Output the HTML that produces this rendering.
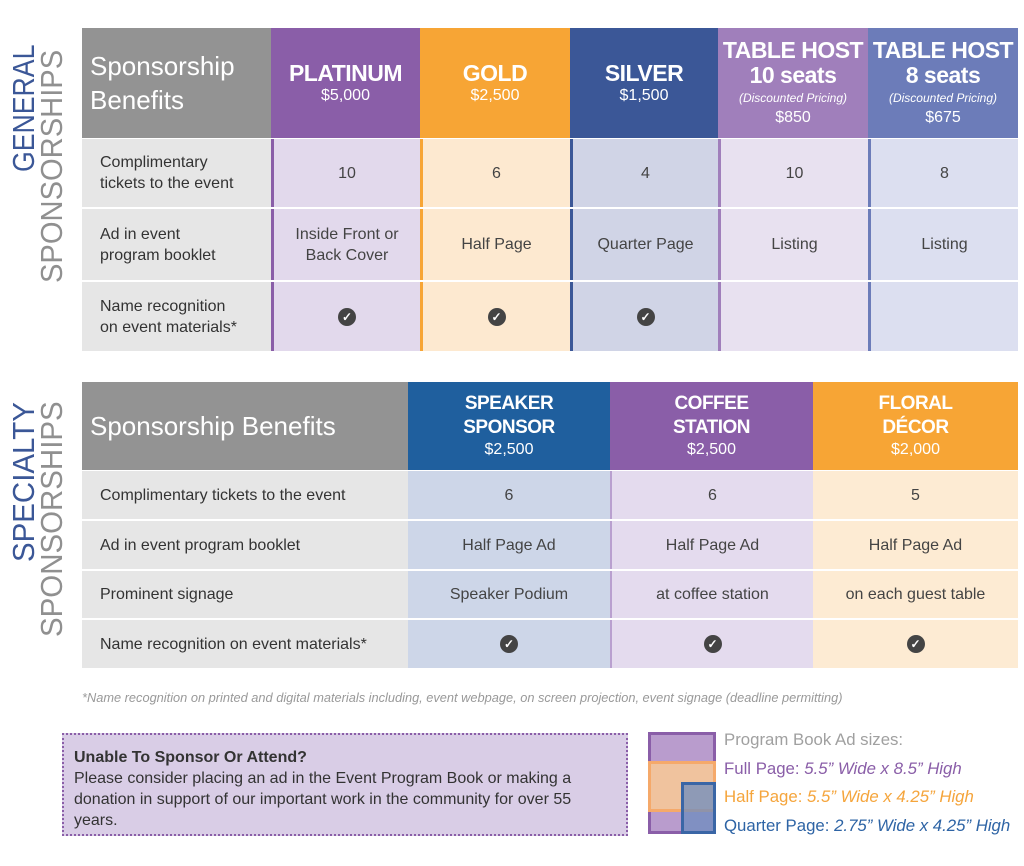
<!DOCTYPE html>
<html><head><meta charset="utf-8"><style>
*{margin:0;padding:0;box-sizing:border-box}
body{width:1024px;height:866px;background:#fff;position:relative;font-family:"Liberation Sans",sans-serif;overflow:hidden}
.a{position:absolute;display:flex;flex-direction:column;align-items:center;justify-content:center;text-align:center;color:#444;font-size:16px;line-height:21px}
.l{align-items:flex-start;text-align:left;padding-left:18px;background:#e6e6e6;color:#333}
.h{color:#fff}
.h b{font-size:23px;line-height:25px;letter-spacing:-0.5px}
.h span{font-size:16px;line-height:20px}
.h i{font-size:12px;line-height:20px}
.chk{width:18px;height:18px;border-radius:50%;background:#444;color:#fff;font-size:12px;line-height:18px;text-align:center;font-weight:bold}
.v{position:absolute;transform-origin:left top;white-space:nowrap;font-size:31px;line-height:31px}
</style></head><body>

<div class="v" style="left:8px;top:172px;color:#3b5797;transform:rotate(-90deg) scaleX(0.86)">GENERAL</div>
<div class="v" style="left:36px;top:283px;color:#909090;transform:rotate(-90deg) scaleX(0.94)">SPONSORSHIPS</div>
<div class="v" style="left:8px;top:562px;color:#3b5797;transform:rotate(-90deg) scaleX(0.95)">SPECIALTY</div>
<div class="v" style="left:36px;top:637px;color:#909090;transform:rotate(-90deg) scaleX(0.95)">SPONSORSHIPS</div>

<!-- table 1 header -->
<div class="a l h" style="left:82px;top:28px;width:189px;height:110px;background:#939393;font-size:26px;line-height:34px;padding-left:8px;color:#fff">Sponsorship<br>Benefits</div>
<div class="a h" style="left:271px;top:28px;width:149px;height:110px;background:#8a5ea8"><b>PLATINUM</b><span>$5,000</span></div>
<div class="a h" style="left:420px;top:28px;width:150px;height:110px;background:#f7a535"><b>GOLD</b><span>$2,500</span></div>
<div class="a h" style="left:570px;top:28px;width:148px;height:110px;background:#3b5797"><b>SILVER</b><span>$1,500</span></div>
<div class="a h" style="left:718px;top:28px;width:150px;height:110px;background:#a07fbb"><b>TABLE HOST<br>10 seats</b><i>(Discounted Pricing)</i><span>$850</span></div>
<div class="a h" style="left:868px;top:28px;width:150px;height:110px;background:#6c7cb9"><b>TABLE HOST<br>8 seats</b><i>(Discounted Pricing)</i><span>$675</span></div>

<!-- table 1 rows -->
<div class="a l" style="left:82px;top:139px;width:189px;height:68px">Complimentary<br>tickets to the event</div>
<div class="a l" style="left:82px;top:209px;width:189px;height:71px">Ad in event<br>program booklet</div>
<div class="a l" style="left:82px;top:282px;width:189px;height:69px">Name recognition<br>on event materials*</div>

<div class="a" style="left:271px;top:139px;width:149px;height:68px;background:#e2d9ec;border-left:3px solid #8a5ea8">10</div>
<div class="a" style="left:271px;top:209px;width:149px;height:71px;background:#e2d9ec;border-left:3px solid #8a5ea8">Inside Front or<br>Back Cover</div>
<div class="a" style="left:271px;top:282px;width:149px;height:69px;background:#e2d9ec;border-left:3px solid #8a5ea8"><div class="chk">✓</div></div>

<div class="a" style="left:420px;top:139px;width:150px;height:68px;background:#fde9d0;border-left:3px solid #f7a535">6</div>
<div class="a" style="left:420px;top:209px;width:150px;height:71px;background:#fde9d0;border-left:3px solid #f7a535">Half Page</div>
<div class="a" style="left:420px;top:282px;width:150px;height:69px;background:#fde9d0;border-left:3px solid #f7a535"><div class="chk">✓</div></div>

<div class="a" style="left:570px;top:139px;width:148px;height:68px;background:#d0d4e6;border-left:3px solid #3b5797">4</div>
<div class="a" style="left:570px;top:209px;width:148px;height:71px;background:#d0d4e6;border-left:3px solid #3b5797">Quarter Page</div>
<div class="a" style="left:570px;top:282px;width:148px;height:69px;background:#d0d4e6;border-left:3px solid #3b5797"><div class="chk">✓</div></div>

<div class="a" style="left:718px;top:139px;width:150px;height:68px;background:#e8e1f0;border-left:3px solid #a07fbb">10</div>
<div class="a" style="left:718px;top:209px;width:150px;height:71px;background:#e8e1f0;border-left:3px solid #a07fbb">Listing</div>
<div class="a" style="left:718px;top:282px;width:150px;height:69px;background:#e8e1f0;border-left:3px solid #a07fbb"></div>

<div class="a" style="left:868px;top:139px;width:150px;height:68px;background:#dcdff0;border-left:3px solid #6c7cb9">8</div>
<div class="a" style="left:868px;top:209px;width:150px;height:71px;background:#dcdff0;border-left:3px solid #6c7cb9">Listing</div>
<div class="a" style="left:868px;top:282px;width:150px;height:69px;background:#dcdff0;border-left:3px solid #6c7cb9"></div>

<!-- table 2 header -->
<div class="a l h" style="left:82px;top:382px;width:326px;height:88px;background:#939393;font-size:26px;padding-left:8px;color:#fff">Sponsorship Benefits</div>
<div class="a h" style="left:408px;top:382px;width:202px;height:88px;background:#1f5f9e"><b style="font-size:19px;line-height:24px">SPEAKER<br>SPONSOR</b><span>$2,500</span></div>
<div class="a h" style="left:610px;top:382px;width:203px;height:88px;background:#8a5ea8"><b style="font-size:19px;line-height:24px">COFFEE<br>STATION</b><span>$2,500</span></div>
<div class="a h" style="left:813px;top:382px;width:205px;height:88px;background:#f7a535"><b style="font-size:19px;line-height:24px">FLORAL<br>DÉCOR</b><span>$2,000</span></div>

<!-- table 2 rows -->
<div class="a l" style="left:82px;top:471px;width:326px;height:48px">Complimentary tickets to the event</div>
<div class="a l" style="left:82px;top:521px;width:326px;height:48px">Ad in event program booklet</div>
<div class="a l" style="left:82px;top:571px;width:326px;height:47px">Prominent signage</div>
<div class="a l" style="left:82px;top:620px;width:326px;height:48px">Name recognition on event materials*</div>

<div class="a" style="left:408px;top:471px;width:202px;height:48px;background:#cdd6e8">6</div>
<div class="a" style="left:408px;top:521px;width:202px;height:48px;background:#cdd6e8">Half Page Ad</div>
<div class="a" style="left:408px;top:571px;width:202px;height:47px;background:#cdd6e8">Speaker Podium</div>
<div class="a" style="left:408px;top:620px;width:202px;height:48px;background:#cdd6e8"><div class="chk">✓</div></div>

<div class="a" style="left:610px;top:471px;width:203px;height:48px;background:#e4dbee;border-left:2px solid #b9a0cf">6</div>
<div class="a" style="left:610px;top:521px;width:203px;height:48px;background:#e4dbee;border-left:2px solid #b9a0cf">Half Page Ad</div>
<div class="a" style="left:610px;top:571px;width:203px;height:47px;background:#e4dbee;border-left:2px solid #b9a0cf">at coffee station</div>
<div class="a" style="left:610px;top:620px;width:203px;height:48px;background:#e4dbee;border-left:2px solid #b9a0cf"><div class="chk">✓</div></div>

<div class="a" style="left:813px;top:471px;width:205px;height:48px;background:#fdebd3">5</div>
<div class="a" style="left:813px;top:521px;width:205px;height:48px;background:#fdebd3">Half Page Ad</div>
<div class="a" style="left:813px;top:571px;width:205px;height:47px;background:#fdebd3">on each guest table</div>
<div class="a" style="left:813px;top:620px;width:205px;height:48px;background:#fdebd3"><div class="chk">✓</div></div>

<div style="position:absolute;left:82px;top:690px;font-size:12.8px;font-style:italic;color:#999;white-space:nowrap">*Name recognition on printed and digital materials including, event webpage, on screen projection, event signage (deadline permitting)</div>

<div style="position:absolute;left:62px;top:733px;width:566px;height:103px;background:#d9cde6;border:2px dotted #8a5ea8;padding:12px 10px;font-size:16px;line-height:21px;color:#333">
<b>Unable To Sponsor Or Attend?</b><br>Please consider placing an ad in the Event Program Book or making a donation in support of our important work in the community for over 55 years.</div>

<div style="position:absolute;left:648px;top:732px;width:68px;height:102px;background:#b99ccd;border:3px solid #8a5ea8"></div>
<div style="position:absolute;left:648px;top:761px;width:68px;height:51px;background:#f0c39e;border:3px solid #f5a96a"></div>
<div style="position:absolute;left:681px;top:782px;width:35px;height:52px;background:rgba(110,140,190,0.75);border:3px solid #3a66a6"></div>

<div style="position:absolute;left:724px;top:726px;font-size:16.8px;line-height:28.5px;white-space:nowrap">
<div style="color:#a0a0a0">Program Book Ad sizes:</div>
<div style="color:#8a5ea8">Full Page: <i>5.5” Wide x 8.5” High</i></div>
<div style="color:#f5a53c">Half Page: <i>5.5” Wide x 4.25” High</i></div>
<div style="color:#2e64a5">Quarter Page: <i>2.75” Wide x 4.25” High</i></div>
</div>
</body></html>
